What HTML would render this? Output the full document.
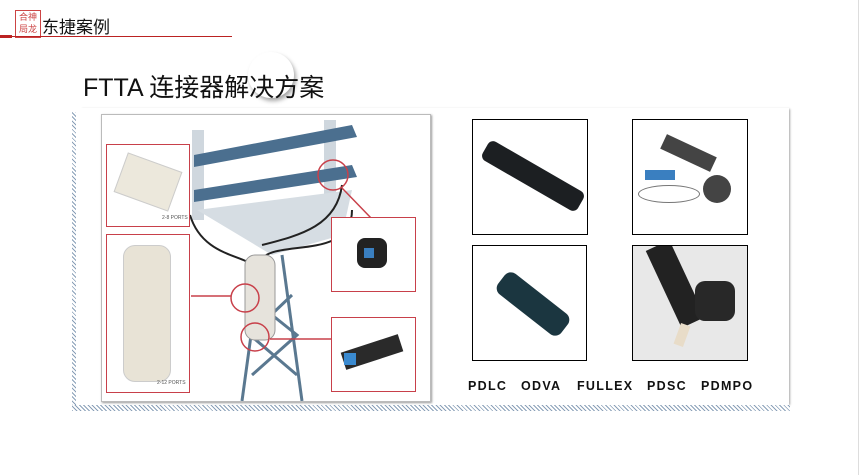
<!DOCTYPE html>
<html><head><meta charset="utf-8"><style>
body{margin:0;width:862px;height:475px;background:#fff;position:relative;overflow:hidden;font-family:"Liberation Sans","Noto Sans CJK SC",sans-serif}
.a{position:absolute}
.box{position:absolute;border:1.5px solid #000;background:#fff;overflow:hidden}
.rb{position:absolute;border:1.5px solid #c8404a;background:#fff}
.hatch{background:repeating-linear-gradient(45deg,#8aa0b8 0 1px,#fff 1px 3px)}
.lab{position:absolute;top:379px;font-weight:bold;font-size:12.5px;letter-spacing:1.3px;color:#111}
</style></head><body>
<div class="a" style="left:15px;top:10px;width:24px;height:26px;border:1px solid #c44;color:#c44;font-size:9px;line-height:12px;text-align:center">合神<br>局龙</div>
<div class="a" style="left:42px;top:13px;font-size:17px;color:#111">东捷案例</div>
<div class="a" style="left:0;top:36px;width:232px;height:1px;background:#b22"></div>
<div class="a" style="left:0;top:35px;width:12px;height:3px;background:#b22"></div>
<div class="a" style="left:248px;top:52px;width:46px;height:46px;border-radius:50%;box-shadow:2px 3px 4px rgba(0,0,0,.35);background:#fff"></div>
<div class="a" style="left:83px;top:68px;font-size:25px;color:#111">FTTA 连接器解决方案</div>
<div class="a" style="left:79px;top:108px;width:710px;height:298px;box-shadow:2px 0 2px -1px rgba(0,0,0,.35);background:#fff"></div>
<div class="a hatch" style="left:72px;top:112px;width:4px;height:298px"></div>
<div class="a hatch" style="left:72px;top:405px;width:718px;height:6px"></div>
<div class="a" style="left:858px;top:0;width:1px;height:475px;background:#ddd"></div>
<!-- left image -->
<div class="a" style="left:101px;top:114px;width:328px;height:286px;border:1px solid #bbb;box-shadow:1px 1px 2px #999;background:#fff;overflow:hidden">
<svg width="328" height="286">
<rect x="90" y="15" width="12" height="90" fill="#cfd7de"/><rect x="222" y="5" width="12" height="100" fill="#cfd7de"/>
<polygon points="92,40 250,10 255,22 92,52" fill="#4b6f8f"/>
<polygon points="92,75 250,50 255,62 92,87" fill="#4b6f8f"/>
<polygon points="95,95 250,75 240,120 170,140 120,110" fill="#d6dde3"/>
<g stroke="#5a7890" stroke-width="3" fill="none"><line x1="160" y1="140" x2="140" y2="286"/><line x1="180" y1="140" x2="200" y2="286"/><path d="M145,180 L195,220 L150,260 M190,180 L148,220 L195,260"/></g>
<g stroke="#222" stroke-width="2" fill="none"><path d="M88,100 C100,140 140,140 150,150"/><path d="M240,70 C235,110 200,120 160,130"/><path d="M250,95 C250,150 160,120 158,150"/></g>
<rect x="143" y="140" width="30" height="85" rx="10" fill="#e6e3dc" stroke="#999"/>
<circle cx="143" cy="183" r="14" fill="none" stroke="#c8404a" stroke-width="1.5"/>
<circle cx="153" cy="222" r="14" fill="none" stroke="#c8404a" stroke-width="1.5"/>
<circle cx="231" cy="60" r="15" fill="none" stroke="#c8404a" stroke-width="1.5"/>
<g stroke="#c8404a" stroke-width="1.5"><line x1="89" y1="181" x2="129" y2="181"/><line x1="240" y1="73" x2="270" y2="104"/><line x1="168" y1="224" x2="230" y2="224"/></g>
</svg></div>
<div class="rb" style="left:106px;top:144px;width:82px;height:81px"><div class="a" style="left:12px;top:16px;width:56px;height:40px;background:#ece8dc;transform:rotate(20deg);border:1px solid #ccc"></div><div class="a" style="left:55px;top:70px;font-size:5px;color:#555">2-8 PORTS</div></div>
<div class="rb" style="left:106px;top:234px;width:82px;height:157px"><div class="a" style="left:16px;top:10px;width:46px;height:135px;border-radius:12px;background:#e8e3d6;border:1px solid #ccc"></div><div class="a" style="left:50px;top:145px;font-size:5px;color:#555">2-12 PORTS</div></div>
<div class="rb" style="left:331px;top:217px;width:83px;height:73px"><div class="a" style="left:25px;top:20px;width:30px;height:30px;border-radius:8px;background:#222"></div><div class="a" style="left:32px;top:30px;width:10px;height:10px;background:#3a7fc0"></div></div>
<div class="rb" style="left:331px;top:317px;width:83px;height:73px"><div class="a" style="left:10px;top:25px;width:60px;height:18px;background:#2a2a2a;transform:rotate(-18deg)"></div><div class="a" style="left:12px;top:35px;width:12px;height:12px;background:#3a8ad0"></div></div>
<!-- products -->
<div class="box" style="left:472px;top:119px;width:114px;height:114px"><div class="a" style="left:5px;top:45px;width:110px;height:22px;border-radius:6px;background:#1c1f22;transform:rotate(30deg)"></div></div>
<div class="box" style="left:632px;top:119px;width:114px;height:114px"><div class="a" style="left:28px;top:25px;width:55px;height:16px;background:#444;transform:rotate(25deg)"></div><div class="a" style="left:70px;top:55px;width:28px;height:28px;border-radius:50%;background:#444"></div><div class="a" style="left:12px;top:50px;width:30px;height:10px;background:#3a7fc0"></div><div class="a" style="left:5px;top:65px;width:60px;height:16px;border:1px solid #777;border-radius:50%"></div></div>
<div class="box" style="left:472px;top:245px;width:113px;height:114px"><div class="a" style="left:20px;top:45px;width:80px;height:26px;border-radius:8px;background:#1b3640;transform:rotate(38deg)"></div></div>
<div class="box" style="left:632px;top:245px;width:114px;height:114px;background:#e8e8e8"><div class="a" style="left:0;top:25px;width:85px;height:26px;background:#222;transform:rotate(65deg)"></div><div class="a" style="left:62px;top:35px;width:40px;height:40px;border-radius:10px;background:#282828"></div><div class="a" style="left:44px;top:78px;width:10px;height:22px;background:#e8dcc8;transform:rotate(20deg)"></div></div>
<div class="lab" style="left:468px">PDLC</div>
<div class="lab" style="left:521px">ODVA</div>
<div class="lab" style="left:577px">FULLEX</div>
<div class="lab" style="left:647px">PDSC</div>
<div class="lab" style="left:701px">PDMPO</div>
</body></html>
